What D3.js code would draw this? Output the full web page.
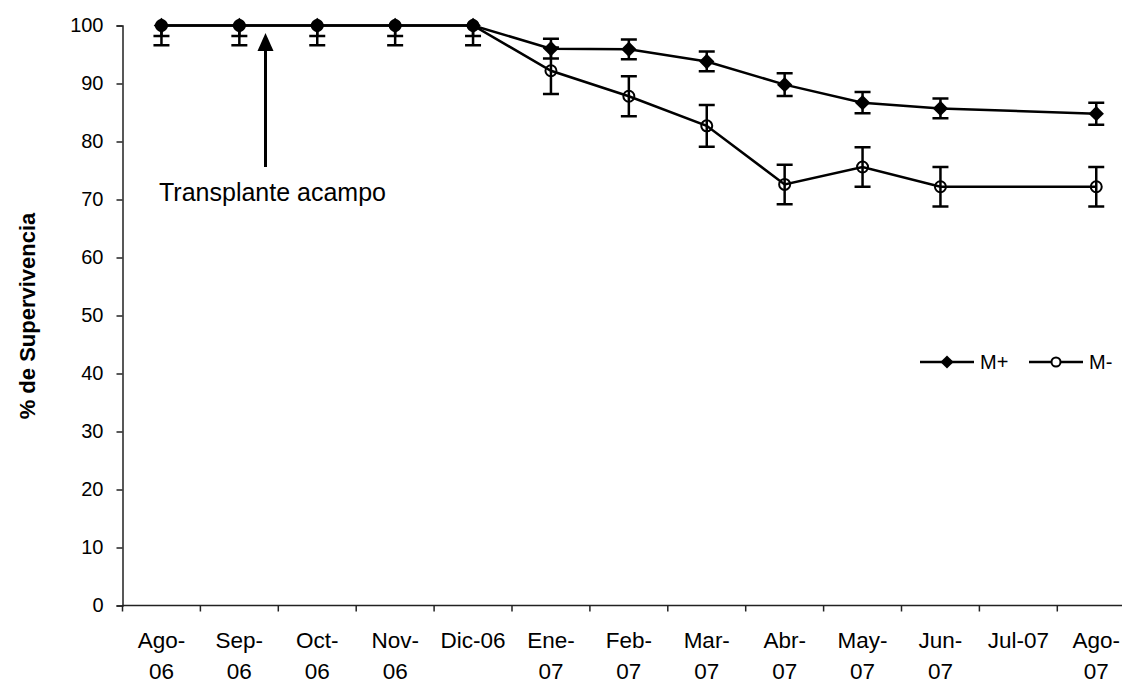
<!DOCTYPE html>
<html>
<head>
<meta charset="utf-8">
<script src="https://cdnjs.cloudflare.com/ajax/libs/d3/7.8.5/d3.min.js"></script>
<style>
  body { margin: 0; background: #fff; }
  svg { display: block; font-family: "Liberation Sans", Arial, sans-serif; }
</style>
</head>
<body>
<div id="chart"></div>
<script>
// months on the x axis
var months = ["Ago-06", "Sep-06", "Oct-06", "Nov-06", "Dic-06", "Ene-07", "Feb-07",
  "Mar-07", "Abr-07", "May-07", "Jun-07", "Jul-07", "Ago-07"];
// survival % (null = no sampling that month)
var mPlus = [100, 100, 100, 100, 100, 96.0, 95.9, 93.8, 89.8, 86.7, 85.7, null, 84.8];
var mPlusErr = [1.8, 1.8, 1.8, 1.8, 1.8, 1.7, 1.7, 1.7, 1.95, 1.85, 1.7, null, 1.9];
var mMinus = [100, 100, 100, 100, 100, 92.2, 87.8, 82.7, 72.6, 75.6, 72.2, null, 72.2];
var mMinusErr = [3.4, 3.4, 3.4, 3.4, 3.4, 4.0, 3.45, 3.6, 3.4, 3.4, 3.4, null, 3.4];
var yTicks = [0, 10, 20, 30, 40, 50, 60, 70, 80, 90, 100];

var width = 1122,
  height = 684,
  plotLeft = 122.5,
  plotTop = 25.5,
  plotBottom = 605.5,
  step = 77.9;

var svg = d3
  .select("#chart")
  .append("svg")
  .attr("width", width)
  .attr("height", height);

var x = d3
  .scaleBand()
  .domain(months)
  .range([plotLeft, plotLeft + step * months.length])
  .padding(0);

var y = d3
  .scaleLinear()
  .domain([0, 100])
  .range([plotBottom, plotTop]);

function cx(i) {
  return x(months[i]) + x.bandwidth() / 2;
}

// clip for error bars (excel cuts them at the plot top)
svg
  .append("clipPath")
  .attr("id", "plotclip")
  .append("rect")
  .attr("x", plotLeft)
  .attr("y", plotTop - 1)
  .attr("width", width - plotLeft)
  .attr("height", plotBottom - plotTop + 1);

//y axis
var yAxis = svg
  .append("g")
  .attr("transform", "translate(" + plotLeft + ",0)")
  .call(d3.axisLeft(y).tickValues(yTicks).tickSize(6).tickPadding(13));
yAxis.selectAll("text")
  .attr("font-size", "20px")
  .attr("font-family", "Liberation Sans, Arial, sans-serif")
  .attr("fill", "#000");
yAxis.selectAll("line, path").attr("stroke", "#222").attr("stroke-width", 1.5);

//x axis: ticks sit between months
var xAxis = svg
  .append("g")
  .attr("transform", "translate(0," + plotBottom + ")");
xAxis
  .append("line")
  .attr("x1", plotLeft)
  .attr("x2", plotLeft + step * months.length)
  .attr("stroke", "#222")
  .attr("stroke-width", 1.5);
xAxis
  .selectAll(".xtick")
  .data(months.concat(["end"]))
  .enter()
  .append("line")
  .attr("x1", function(d, i) { return plotLeft + i * x.step(); })
  .attr("x2", function(d, i) { return plotLeft + i * x.step(); })
  .attr("y1", 0)
  .attr("y2", 6)
  .attr("stroke", "#222")
  .attr("stroke-width", 1.5);

var labels = xAxis
  .selectAll(".xlabel")
  .data(months)
  .enter()
  .append("text")
  .attr("text-anchor", "middle")
  .attr("font-size", "22.5px")
  .attr("fill", "#000")
  .attr("y", 42)
  .attr("x", function(d) { return x(d) + x.bandwidth() / 2; })
  .text(function(d) { return d; });

// wrap long labels on the dash like excel does
labels.each(function(d) {
  var t = d3.select(this);
  if (this.getComputedTextLength() > 66.5) {
    var parts = d.split("-");
    var xx = t.attr("x");
    t.text(null);
    t.append("tspan").attr("x", xx).text(parts[0] + "-");
    t.append("tspan").attr("x", xx).attr("dy", 31).text(parts[1]);
  }
});

//y axis title
svg
  .append("text")
  .attr("transform", "translate(35,316) rotate(-90)")
  .attr("text-anchor", "middle")
  .attr("font-size", "22px")
  .attr("font-weight", "bold")
  .attr("fill", "#000")
  .text("% de Supervivencia");

function pts(vals, errs) {
  var out = [];
  vals.forEach(function(v, i) {
    if (v !== null) out.push({ i: i, v: v, e: errs[i] });
  });
  return out;
}

var series = [
  { name: "M+", data: pts(mPlus, mPlusErr), marker: "diamond" },
  { name: "M-", data: pts(mMinus, mMinusErr), marker: "circle" }
];

var line = d3
  .line()
  .x(function(d) { return cx(d.i); })
  .y(function(d) { return y(d.v); });

var diamond = d3.symbol().type(d3.symbolDiamond2).size(150);

// error bars
series.forEach(function(s) {
  var g = svg.append("g").attr("clip-path", "url(#plotclip)");
  var eb = g.selectAll("g").data(s.data).enter().append("g");
  eb.append("line")
    .attr("x1", function(d) { return cx(d.i); })
    .attr("x2", function(d) { return cx(d.i); })
    .attr("y1", function(d) { return y(d.v + d.e); })
    .attr("y2", function(d) { return y(d.v - d.e); });
  [1, -1].forEach(function(sign) {
    eb.append("line")
      .attr("x1", function(d) { return cx(d.i) - 8; })
      .attr("x2", function(d) { return cx(d.i) + 8; })
      .attr("y1", function(d) { return y(d.v + sign * d.e); })
      .attr("y2", function(d) { return y(d.v + sign * d.e); });
  });
  eb.selectAll("line").attr("stroke", "#000").attr("stroke-width", 2.5);
});

// lines + markers, M- first so diamonds land on top
[series[1], series[0]].forEach(function(s) {
  svg
    .append("path")
    .datum(s.data)
    .attr("fill", "none")
    .attr("stroke", "#000")
    .attr("stroke-width", 2.5)
    .attr("d", line);

  if (s.marker == "diamond") {
    svg
      .selectAll(".dia")
      .data(s.data)
      .enter()
      .append("path")
      .attr("d", diamond)
      .attr("transform", function(d) { return "translate(" + cx(d.i) + "," + y(d.v) + ")"; })
      .attr("fill", "#000");
  } else {
    svg
      .selectAll(".circ")
      .data(s.data)
      .enter()
      .append("circle")
      .attr("cx", function(d) { return cx(d.i); })
      .attr("cy", function(d) { return y(d.v); })
      .attr("r", 5.5)
      .attr("fill", "none")
      .attr("stroke", "#000")
      .attr("stroke-width", 2);
  }
});

//annotation arrow
svg
  .append("line")
  .attr("x1", 265.5)
  .attr("x2", 265.5)
  .attr("y1", 167)
  .attr("y2", 48)
  .attr("stroke", "#000")
  .attr("stroke-width", 3);
svg
  .append("path")
  .attr("d", "M265.5,33 L273.5,51 L257.5,51 Z")
  .attr("fill", "#000");
svg
  .append("text")
  .attr("x", 159)
  .attr("y", 201)
  .attr("font-size", "25px")
  .attr("fill", "#000")
  .text("Transplante acampo");

//legend
var legend = svg.append("g").attr("transform", "translate(920,362)");
series.forEach(function(s, k) {
  var lg = legend.append("g").attr("transform", "translate(" + k * 109 + ",0)");
  lg.append("line")
    .attr("x1", 0)
    .attr("x2", 54)
    .attr("stroke", "#000")
    .attr("stroke-width", 2.5);
  if (s.marker == "diamond") {
    lg.append("path")
      .attr("d", d3.symbol().type(d3.symbolDiamond2).size(110))
      .attr("transform", "translate(27,0)")
      .attr("fill", "#000");
  } else {
    lg.append("circle")
      .attr("cx", 27)
      .attr("r", 4.5)
      .attr("fill", "#fff")
      .attr("stroke", "#000")
      .attr("stroke-width", 2);
  }
  lg.append("text")
    .attr("x", 60)
    .attr("y", 7)
    .attr("font-size", "20px")
    .attr("fill", "#000")
    .text(s.name);
});
</script>
</body>
</html>
